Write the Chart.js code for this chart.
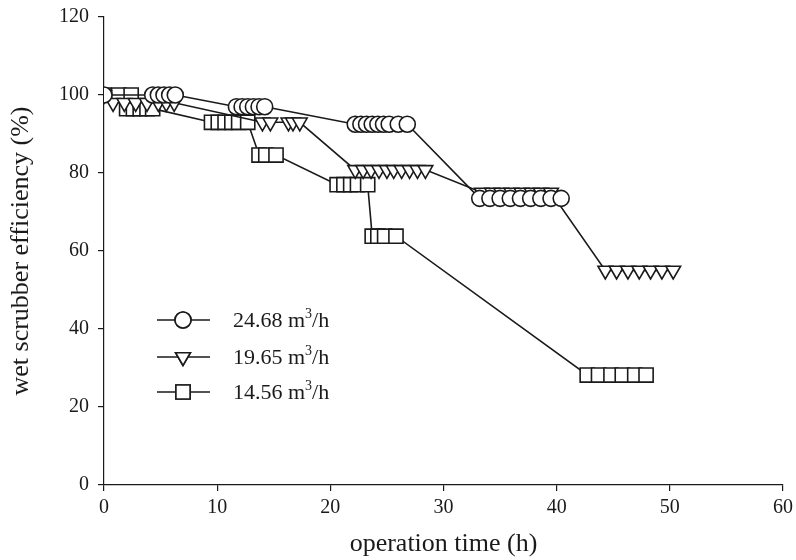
<!DOCTYPE html>
<html>
<head>
<meta charset="utf-8">
<script src="https://cdn.jsdelivr.net/npm/chart.js@4"></script>
<style>
  html, body { margin: 0; padding: 0; background: #fff; }
  #wrap { width: 796px; height: 560px; }
</style>
</head>
<body>
<div id="wrap"><canvas id="chart" width="796" height="560"></canvas></div>
<script>
// operation time (h) and efficiency (%)
const timeA = [0, 4.3, 4.8, 5.3, 5.8, 6.3, 11.7, 12.2, 12.7, 13.2, 13.7, 14.2,
  22.2, 22.7, 23.2, 23.7, 24.2, 24.7, 25.2, 26.0, 26.8,
  33.2, 34.1, 35.0, 35.9, 36.8, 37.7, 38.6, 39.5, 40.4];
const effA = [100, 100, 100, 100, 100, 100, 97, 97, 97, 97, 97, 97,
  92.5, 92.5, 92.5, 92.5, 92.5, 92.5, 92.5, 92.5, 92.5,
  73.5, 73.5, 73.5, 73.5, 73.5, 73.5, 73.5, 73.5, 73.5];

const timeB = [0, 0.8, 1.8, 2.8, 3.8, 4.8, 5.5, 6.2, 14.0, 14.7, 16.3, 16.7, 17.3,
  22.2, 22.9, 23.6, 24.3, 25.0, 25.6, 26.3, 27.0, 27.7, 28.4,
  33.4, 34.3, 35.1, 36.0, 36.9, 37.8, 38.6, 39.5,
  44.3, 45.3, 46.3, 47.3, 48.3, 49.3, 50.3];
const effB = [100, 98, 98, 98, 98, 98, 98, 98, 93, 93, 93, 93, 93,
  80.8, 80.8, 80.8, 80.8, 80.8, 80.8, 80.8, 80.8, 80.8, 80.8,
  75, 75, 75, 75, 75, 75, 75, 75,
  55, 55, 55, 55, 55, 55, 55];

const timeC = [0, 1.3, 2.4, 2.0, 2.6, 3.2, 3.8, 4.3, 9.5, 10.1, 10.7, 11.3, 11.9, 12.7,
  13.7, 14.3, 15.2, 20.6, 21.2, 21.8, 22.4, 23.3, 23.7, 24.2, 24.8, 25.8,
  42.7, 43.7, 44.8, 45.8, 46.9, 47.9];
const effC = [100, 100, 100, 96.5, 96.5, 96.5, 96.5, 96.5, 93, 93, 93, 93, 93, 93,
  84.6, 84.6, 84.6, 77, 77, 77, 77, 77, 63.8, 63.8, 63.8, 63.8,
  28.2, 28.2, 28.2, 28.2, 28.2, 28.2];

const seriesLabels = ['24.68 m3/h', '19.65 m3/h', '14.56 m3/h'];
const xTicks = [0, 10, 20, 30, 40, 50, 60];
const yTicks = [0, 20, 40, 60, 80, 100, 120];

const FONT = "'Liberation Serif', 'DejaVu Serif', serif";

function pts(xs, ys) {
    return xs.map((x, i) => ({ x: x, y: ys[i] }));
}

const markerStyles = [
    { pointStyle: 'circle', radius: 8, rotation: 0 },
    { pointStyle: 'triangle', radius: 8.5, rotation: 180 },
    { pointStyle: 'rect', radius: 10, rotation: 0 }
];

function makeSet(i, xs, ys) {
    const m = markerStyles[i];
    return {
        label: seriesLabels[i],
        data: pts(xs, ys),
        borderColor: '#1a1a1a',
        borderWidth: 1.6,
        backgroundColor: '#ffffff',
        pointStyle: m.pointStyle,
        pointRadius: m.radius,
        pointRotation: m.rotation,
        pointBackgroundColor: '#ffffff',
        pointBorderColor: '#1a1a1a',
        pointBorderWidth: 1.6,
        tension: 0,
        fill: false
    };
}

// legend drawn inside the plot, like the original figure
const innerLegend = {
    id: 'innerLegend',
    afterDraw(chart) {
        const ctx = chart.ctx;
        const rows = [320, 357, 392];
        ctx.save();
        rows.forEach((y, i) => {
            const m = markerStyles[i];
            ctx.strokeStyle = '#1a1a1a';
            ctx.lineWidth = 1.6;
            ctx.beginPath();
            ctx.moveTo(157, y);
            ctx.lineTo(210, y);
            ctx.stroke();
            ctx.fillStyle = '#ffffff';
            Chart.helpers.drawPoint(ctx, {
                pointStyle: m.pointStyle,
                radius: m.radius,
                rotation: m.rotation,
                borderWidth: 1.6
            }, 183, y);
            ctx.fill();
            ctx.stroke();

            const parts = seriesLabels[i].split('m3');
            ctx.fillStyle = '#1a1a1a';
            ctx.textBaseline = 'middle';
            ctx.font = '22px ' + FONT;
            let x = 233;
            const first = parts[0] + 'm';
            ctx.fillText(first, x, y + 1);
            x += ctx.measureText(first).width;
            ctx.font = '14px ' + FONT;
            ctx.fillText('3', x, y - 6);
            x += ctx.measureText('3').width;
            ctx.font = '22px ' + FONT;
            ctx.fillText(parts[1], x, y + 1);
        });
        ctx.restore();
    }
};

new Chart(document.getElementById('chart').getContext('2d'), {
    type: 'line',
    data: {
        datasets: [
            makeSet(0, timeA, effA),
            makeSet(1, timeB, effB),
            makeSet(2, timeC, effC)
        ]
    },
    options: {
        responsive: false,
        animation: false,
        layout: { padding: { top: 17, right: 13, left: 0, bottom: 0 } },
        plugins: {
            legend: { display: false },
            tooltip: { enabled: false }
        },
        scales: {
            x: {
                type: 'linear',
                min: 0,
                max: 60,
                afterBuildTicks: (scale) => { scale.ticks = xTicks.map(v => ({ value: v })); },
                afterFit: (scale) => {
                    scale.height = 75;
                    scale.paddingLeft = 0;
                    scale.paddingRight = 0;
                },
                grid: { drawOnChartArea: false, drawTicks: true, tickLength: 6, color: '#1a1a1a', lineWidth: 1.2 },
                border: { display: true, color: '#1a1a1a', width: 1.2 },
                ticks: { color: '#1a1a1a', font: { family: FONT, size: 20 }, padding: 5, maxRotation: 0 },
                title: { display: true, text: 'operation time (h)', color: '#1a1a1a',
                    font: { family: FONT, size: 26 }, padding: { top: 0, bottom: 0 } }
            },
            y: {
                type: 'linear',
                min: 0,
                max: 120,
                afterBuildTicks: (scale) => { scale.ticks = yTicks.map(v => ({ value: v })); },
                afterFit: (scale) => {
                    scale.width = 104;
                    scale.paddingTop = 0;
                    scale.paddingBottom = 0;
                },
                grid: { drawOnChartArea: false, drawTicks: true, tickLength: 6, color: '#1a1a1a', lineWidth: 1.2 },
                border: { display: true, color: '#1a1a1a', width: 1.2 },
                ticks: { color: '#1a1a1a', font: { family: FONT, size: 20 }, padding: 9 },
                title: { display: true, text: 'wet scrubber efficiency (%)', color: '#1a1a1a',
                    font: { family: FONT, size: 26 }, padding: { top: 6, bottom: 0 } }
            }
        }
    },
    plugins: [innerLegend]
});
</script>
</body>
</html>
